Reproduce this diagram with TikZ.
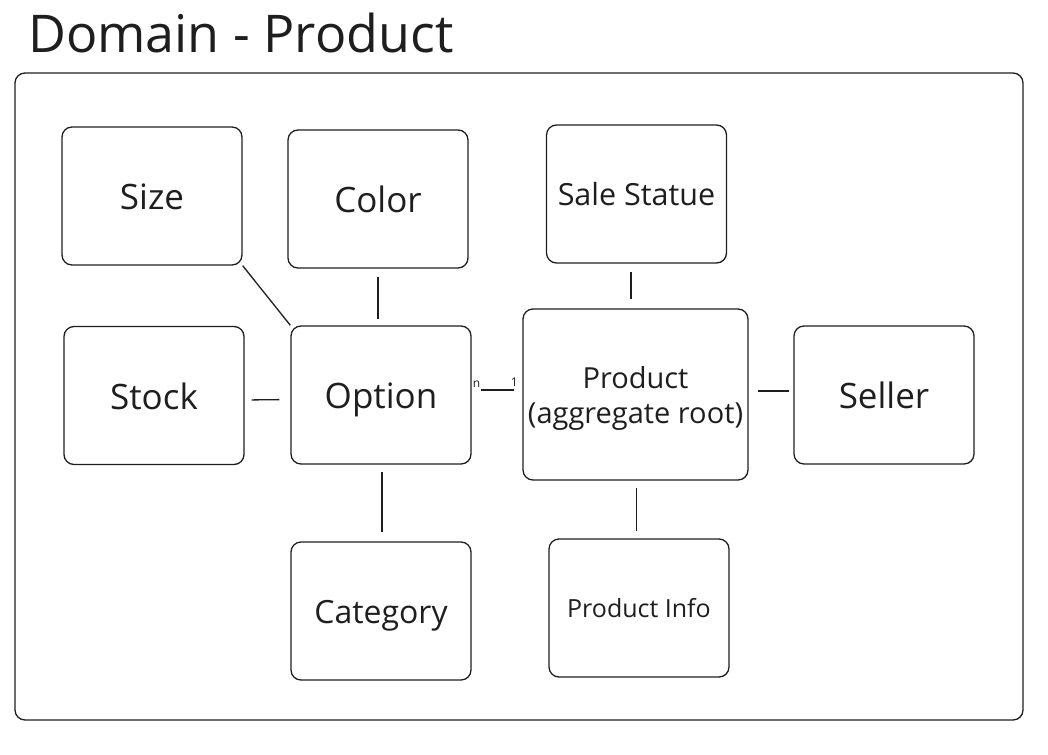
\documentclass[tikz,border=0pt]{standalone}
\usepackage{fontspec}
\setmainfont{Open Sans}
\usepackage[HTML]{xcolor}
\usepackage{tikz}
\usetikzlibrary{positioning}

\definecolor{ink}{HTML}{1E1E1E}

\begin{document}
\begin{tikzpicture}[x=1pt,y=-1pt,
  entity/.style={draw=ink,line width=1.3pt,rounded corners=10pt,minimum width=180pt,minimum height=138pt,inner sep=0pt,align=center,text=ink,text height=25pt,text depth=0pt,font=\fontsize{35}{40}\selectfont},
  link/.style={draw=ink,line width=1.3pt},
  mult/.style={text=ink,inner sep=0pt,font=\fontsize{12}{14}\selectfont}]
\useasboundingbox (0,0) rectangle (1048,754);
\node[anchor=base west,text=ink,inner sep=0pt,font=\fontsize{52}{58}\selectfont] (title) at (28,53) {Domain - Product};
\draw[ink,line width=1.3pt,rounded corners=10pt] (15,73) rectangle (1023,720);
% entities
\node[entity,text height=27pt] (size) at (152,196) {Size};
\node[entity,text height=27pt] (color) at (378,199) {Color};
\node[entity,text height=23.8pt,font=\fontsize{30.5}{34}\selectfont] (sale) at (636.5,194) {Sale Statue};
\node[entity,text height=27pt] (stock) at (154,395.5) {Stock};
\node[entity,text height=27pt] (option) at (381,395) {Option};
\node[entity,minimum width=225pt,minimum height=171pt,text height=57pt,font=\fontsize{29}{35}\selectfont] (product) at (635.5,394.5) {Product\\(aggregate root)};
\node[entity,text height=27pt] (seller) at (884,395) {Seller};
\node[entity,text height=24.8pt,font=\fontsize{32}{36}\selectfont] (category) at (381,611) {Category};
\node[entity,text height=19.9pt,font=\fontsize{25}{28}\selectfont] (info) at (639,608) {Product Info};
% relations
\draw[link] (size.south east) -- (option.north west);
\draw[link,shorten <=8pt,shorten >=6pt] (color) -- (color|-option.north);
\draw[link,shorten <=7pt,shorten >=11pt] ([yshift=-4.5pt]stock.east) -- ([yshift=-4.5pt]option.west);
\draw[link,shorten <=9pt,shorten >=8pt] ([yshift=5pt]option.east) -- ([yshift=5pt]option.east-|product.west);
\node[mult,anchor=south] (n) at ([xshift=5pt,yshift=7pt]option.east) {n};
\node[mult,anchor=south] (one) at ([xshift=-8pt,yshift=8pt]option.east-|product.west) {1};
\draw[link,shorten <=8pt,shorten >=9pt] ([xshift=-5.5pt]sale.south) -- ([xshift=-5.5pt]sale.south|-product.north);
\draw[link,shorten <=9pt,shorten >=4pt] ([yshift=3.5pt]product.east) -- ([yshift=3.5pt]product.east-|seller.west);
\draw[link,shorten <=7pt,shorten >=9pt] ([xshift=1pt]option.south) -- ([xshift=1pt]option.south|-category.north);
\draw[link,shorten <=7pt,shorten >=7pt] ([xshift=1pt]product.south) -- ([xshift=1pt]product.south|-info.north);
\end{tikzpicture}
\end{document}
